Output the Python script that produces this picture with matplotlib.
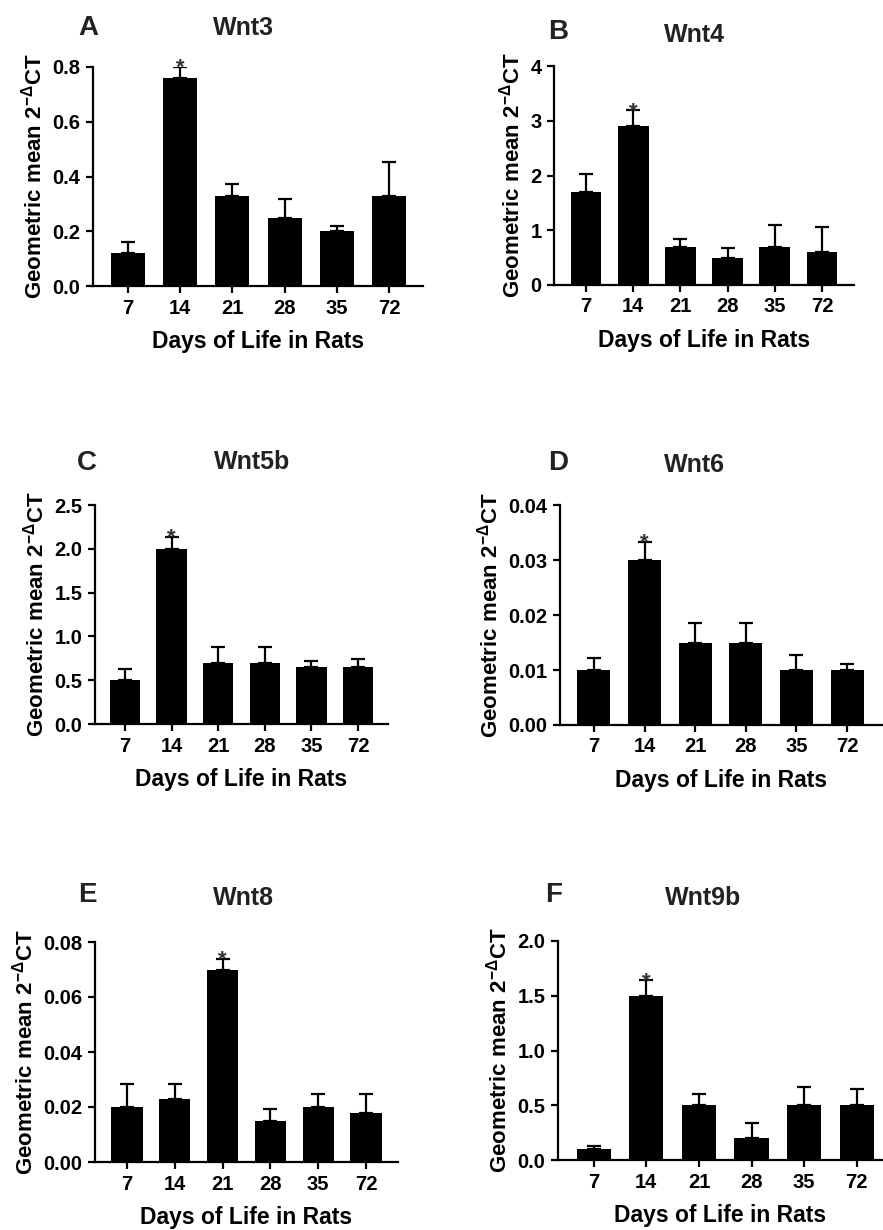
import matplotlib
matplotlib.use('Agg')
import matplotlib.pyplot as plt
import numpy as np

plt.rcParams['font.family'] = ['Liberation Sans', 'DejaVu Sans']
plt.rcParams['font.weight'] = 'bold'
plt.rcParams['axes.labelweight'] = 'bold'
plt.rcParams['mathtext.fontset'] = 'custom'
plt.rcParams['mathtext.rm'] = 'Liberation Sans:bold'
plt.rcParams['mathtext.it'] = 'Liberation Sans:bold'
plt.rcParams['mathtext.bf'] = 'Liberation Sans:bold'

days = ['7', '14', '21', '28', '35', '72']
genes = ['Wnt3', 'Wnt4', 'Wnt5b', 'Wnt6', 'Wnt8', 'Wnt9b']
letters = ['A', 'B', 'C', 'D', 'E', 'F']

# bar heights and top of error bar
wnt3 = [0.12, 0.76, 0.33, 0.25, 0.20, 0.33]
wnt3_top = [0.16, 0.80, 0.373, 0.317, 0.221, 0.453]
wnt4 = [1.70, 2.90, 0.70, 0.50, 0.70, 0.60]
wnt4_top = [2.03, 3.19, 0.84, 0.67, 1.09, 1.06]
wnt5b = [0.50, 2.00, 0.70, 0.70, 0.65, 0.65]
wnt5b_top = [0.63, 2.14, 0.875, 0.875, 0.72, 0.745]
wnt6 = [0.010, 0.030, 0.015, 0.015, 0.010, 0.010]
wnt6_top = [0.0122, 0.0333, 0.0186, 0.0186, 0.0127, 0.0111]
wnt8 = [0.020, 0.023, 0.070, 0.015, 0.020, 0.018]
wnt8_top = [0.0283, 0.0283, 0.074, 0.0193, 0.0246, 0.0246]
wnt9b = [0.10, 1.50, 0.50, 0.20, 0.50, 0.50]
wnt9b_top = [0.13, 1.64, 0.60, 0.34, 0.67, 0.65]

# index of bar marked with *
signif = [1, 1, 1, 1, 2, 1]

means = [wnt3, wnt4, wnt5b, wnt6, wnt8, wnt9b]
tops = [wnt3_top, wnt4_top, wnt5b_top, wnt6_top, wnt8_top, wnt9b_top]

yticks = [[0.0, 0.2, 0.4, 0.6, 0.8],
          [0, 1, 2, 3, 4],
          [0.0, 0.5, 1.0, 1.5, 2.0, 2.5],
          [0.00, 0.01, 0.02, 0.03, 0.04],
          [0.00, 0.02, 0.04, 0.06, 0.08],
          [0.0, 0.5, 1.0, 1.5, 2.0]]
yfmt = ['%.1f', '%d', '%.1f', '%.2f', '%.2f', '%.1f']

W, H = 883, 1230
fig = plt.figure(figsize=(W / 100, H / 100), dpi=100)

# axes boxes in pixels: left, top, right, bottom
boxes = [(93, 67, 423, 286), (554, 66, 854, 285),
         (95, 505, 388, 724), (560, 505, 882, 725),
         (95, 942, 398, 1162), (558, 941, 883, 1160)]
xlims = [(-0.67, 5.65), (-0.68, 5.68), (-0.64, 5.64),
         (-0.67, 5.69), (-0.67, 5.67), (-0.68, 5.5)]
title_pos = [(243, 28), (694, 35), (252, 462), (694, 465), (243, 898), (703, 898)]
letter_pos = [(88, 28), (558, 32), (87, 463), (558, 463), (87, 895), (554, 895)]

x = np.arange(len(days))
for i in range(6):
    l, t, r, b = boxes[i]
    ax = fig.add_axes([l / W, 1 - b / H, (r - l) / W, (b - t) / H])
    m = np.array(means[i])
    up = np.array(tops[i]) - m
    ax.bar(x, m, width=0.65, color='black', zorder=2)
    ax.errorbar(x, m, yerr=[np.zeros_like(up), up], fmt='none', ecolor='black',
                elinewidth=1.6, capsize=5, capthick=1.6, zorder=1)
    k = signif[i]
    ax.annotate('*', (x[k], tops[i][k]), xytext=(0, -1), textcoords='offset points',
                ha='center', va='center', fontsize=16, color='#333333', zorder=3)
    ax.set_xlim(*xlims[i])
    ax.set_ylim(yticks[i][0], yticks[i][-1])
    ax.set_yticks(yticks[i])
    ax.set_yticklabels([yfmt[i] % v for v in yticks[i]])
    ax.set_xticks(x)
    ax.set_xticklabels(days)
    for s in ['top', 'right']:
        ax.spines[s].set_visible(False)
    for s in ['left', 'bottom']:
        ax.spines[s].set_linewidth(1.6)
    ax.tick_params(width=1.6, length=5, labelsize=14.5, pad=4)
    ax.set_ylabel(r'Geometric mean 2$^{-\Delta}$CT', fontsize=16, labelpad=4)
    ax.set_xlabel('Days of Life in Rats', fontsize=16.5, labelpad=9)
    tx, ty = title_pos[i]
    fig.text(tx / W, 1 - ty / H, genes[i], ha='center', va='center',
             fontsize=18, color='#222222')
    lx, ly = letter_pos[i]
    fig.text(lx / W, 1 - ly / H, letters[i], ha='center', va='center',
             fontsize=20, color='#222222')

fig.savefig('out.png', dpi=100)
